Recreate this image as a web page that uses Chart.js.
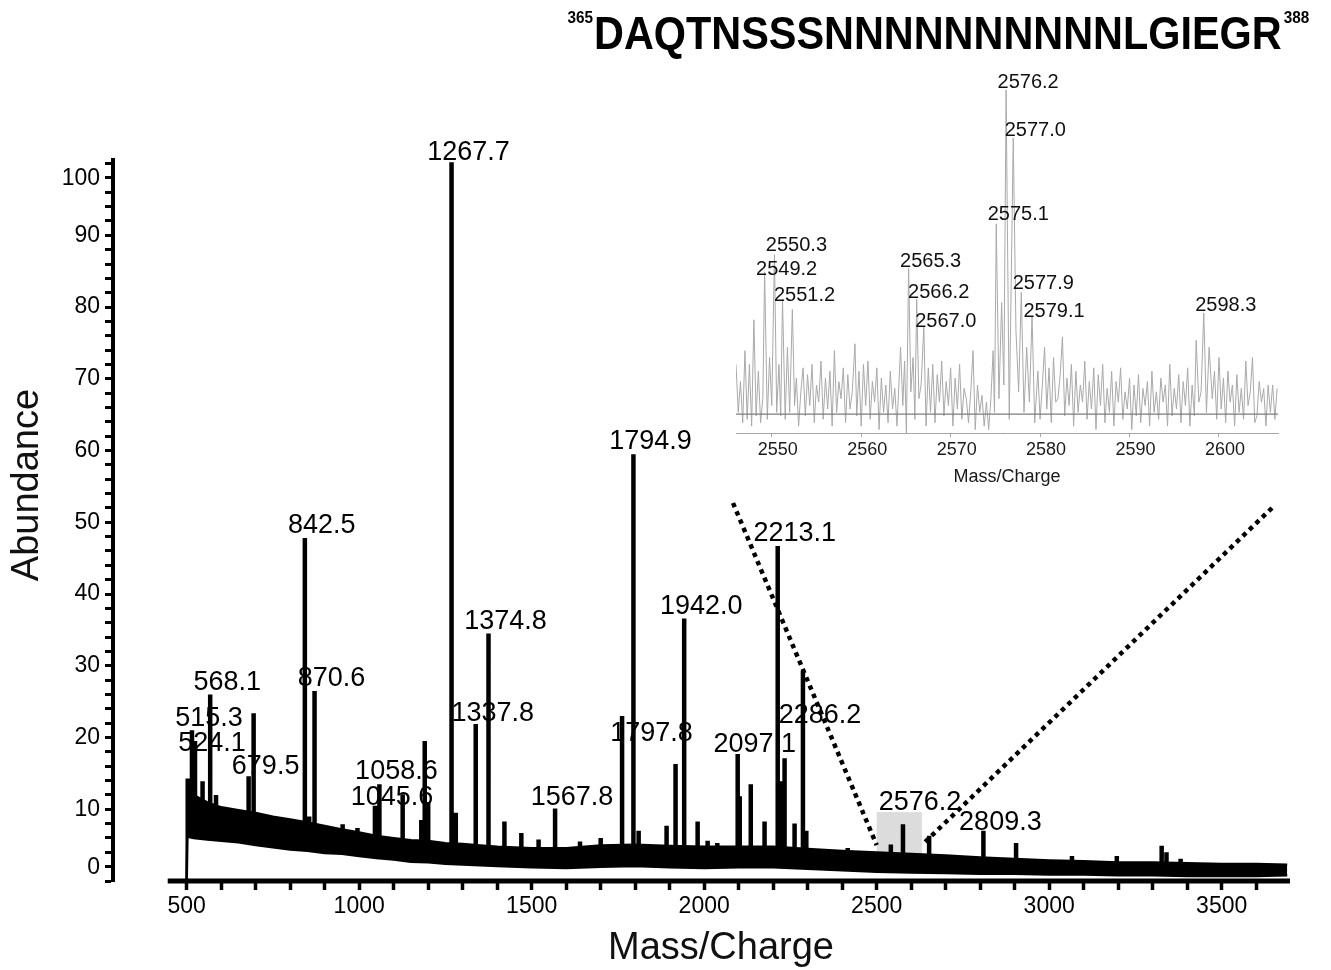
<!DOCTYPE html>
<html>
<head>
<meta charset="utf-8">
<script src="https://cdn.jsdelivr.net/npm/chart.js@4.4.0/dist/chart.umd.min.js"></script>
<style>
  html, body { margin: 0; padding: 0; background: #ffffff; }
  #wrap { position: relative; width: 1331px; height: 970px; overflow: hidden; }
  #main { position: absolute; left: 0; top: 0; }
  #inset { position: absolute; left: 700px; top: 55px; }
</style>
</head>
<body>
<div id="wrap">
  <canvas id="main" width="1331" height="970" style="width:1331px;height:970px"></canvas>
  <canvas id="inset" width="631" height="448" style="width:631px;height:448px"></canvas>
</div>
<script>
// ===================== DATA =====================
const xTickLabels = [500, 1000, 1500, 2000, 2500, 3000, 3500];
const yTickLabels = [0, 10, 20, 30, 40, 50, 60, 70, 80, 90, 100];

// noise band of the spectrum (lower / upper envelope, abundance %)
const bandMz   = [500, 502, 520, 560, 600, 650, 700, 750, 800, 850, 900, 950, 1000, 1050, 1100, 1150, 1200, 1250, 1300, 1350, 1400, 1500, 1600, 1700, 1800, 1900, 2000, 2100, 2200, 2300, 2400, 2500, 2600, 2700, 2800, 2900, 3000, 3100, 3200, 3300, 3400, 3500, 3600, 3690];
const bandLow  = [0, 6.2, 6.0, 5.8, 5.6, 5.4, 5.0, 4.7, 4.4, 4.2, 3.9, 3.8, 3.5, 3.2, 3.0, 2.7, 2.6, 2.4, 2.3, 2.2, 2.1, 1.9, 1.8, 2.0, 2.1, 1.9, 1.8, 1.9, 1.9, 1.7, 1.5, 1.3, 1.2, 1.1, 1.0, 1.0, 0.9, 0.9, 0.8, 0.8, 0.7, 0.7, 0.7, 0.8];
const bandHigh = [0, 11.5, 12.0, 11.0, 10.3, 9.9, 9.5, 9.0, 8.6, 8.2, 7.7, 7.2, 6.8, 6.3, 6.0, 5.7, 5.6, 5.3, 5.2, 5.0, 4.8, 4.6, 4.6, 5.0, 5.1, 4.9, 4.8, 4.8, 4.8, 4.5, 4.2, 4.0, 3.8, 3.6, 3.3, 3.1, 2.9, 2.8, 2.6, 2.6, 2.5, 2.4, 2.4, 2.3];

// peaks rising above the noise band
const peakMz     = [503, 515.3, 524.1, 546, 568.1, 585, 679.5, 694, 842.5, 855, 870.6, 952, 995, 1045.6, 1058.6, 1126, 1180, 1190, 1200, 1267.7, 1280, 1337.8, 1374.8, 1421, 1470, 1520, 1567.8, 1640, 1700, 1762, 1794.9, 1810, 1891, 1917, 1942.0, 1981, 2010, 2038, 2097.1, 2103, 2135, 2175, 2213.1, 2224, 2233, 2262, 2286.2, 2296, 2416, 2541, 2576.2, 2590, 2652, 2809.3, 2904, 3066, 3196, 3326, 3340, 3381];
const peakHeight = [14.3, 21, 19.5, 13.9, 26, 12, 14.6, 23.4, 47.8, 9, 26.5, 7.9, 7.4, 10.5, 13.5, 12.1, 8.5, 19.5, 11, 100.2, 9.5, 21.9, 34.5, 8.3, 6.7, 5.8, 10.1, 5.5, 6, 23, 59.5, 7, 7.7, 16.3, 36.6, 8.3, 5.6, 5.3, 17.7, 11.8, 13.5, 8.3, 46.7, 13.9, 17.1, 8, 29.3, 7, 4.6, 5.1, 7.9, 3.8, 6.3, 7.0, 5.3, 3.5, 3.5, 4.9, 4.0, 3.1];

// annotated m/z values and the abundance level of their text
const labelMz = [1267.7, 842.5, 1794.9, 2213.1, 1942.0, 1374.8, 568.1, 870.6, 515.3, 1337.8, 2286.2, 524.1, 1797.8, 2097.1, 679.5, 1058.6, 1045.6, 1567.8, 2576.2, 2809.3];
const labelY  = [101.6, 49.6, 61.2, 48.5, 38.2, 36.1, 27.6, 28.2, 22.6, 23.4, 23.1, 19.2, 20.6, 19.0, 16.0, 15.2, 11.6, 11.7, 11.0, 8.2];

// zoomed region (grey box)
const zoomBoxMz  = [2500, 2631];
const zoomBoxTop = 9.6;

// inset spectrum
const insetMz = [2546.00,2546.25,2546.50,2546.75,2547.00,2547.25,2547.50,2547.75,2548.00,2548.25,2548.50,2548.75,2549.00,2549.20,2549.50,2549.75,2550.00,2550.30,2550.55,2550.80,2551.00,2551.20,2551.50,2551.75,2552.00,2552.30,2552.55,2552.75,2553.00,2553.25,2553.50,2553.75,2554.00,2554.25,2554.50,2554.75,2555.00,2555.25,2555.50,2555.75,2556.00,2556.25,2556.50,2556.75,2557.00,2557.25,2557.50,2557.75,2558.00,2558.25,2558.50,2558.75,2559.00,2559.30,2559.50,2559.75,2560.00,2560.25,2560.50,2560.75,2561.00,2561.25,2561.50,2561.75,2562.00,2562.25,2562.50,2562.75,2563.00,2563.25,2563.50,2563.75,2564.00,2564.40,2564.65,2564.85,2565.05,2565.30,2565.55,2565.80,2566.00,2566.20,2566.45,2566.70,2567.00,2567.25,2567.50,2567.75,2568.00,2568.25,2568.50,2568.75,2569.00,2569.25,2569.50,2569.75,2570.00,2570.25,2570.50,2570.75,2571.00,2571.25,2571.50,2571.75,2572.00,2572.25,2572.50,2572.75,2573.00,2573.25,2573.50,2573.75,2574.00,2574.25,2574.50,2574.75,2574.90,2575.10,2575.40,2575.70,2575.95,2576.20,2576.55,2577.00,2577.30,2577.60,2577.90,2578.20,2578.50,2578.80,2579.10,2579.40,2579.75,2580.00,2580.25,2580.50,2580.75,2581.00,2581.25,2581.50,2581.75,2582.00,2582.25,2582.50,2582.75,2583.00,2583.25,2583.50,2583.75,2584.00,2584.25,2584.50,2584.75,2585.00,2585.25,2585.50,2585.75,2586.00,2586.25,2586.50,2586.75,2587.00,2587.25,2587.50,2587.75,2588.00,2588.25,2588.50,2588.75,2589.00,2589.25,2589.50,2589.75,2590.00,2590.25,2590.50,2590.75,2591.00,2591.25,2591.50,2591.75,2592.00,2592.25,2592.50,2592.75,2593.00,2593.25,2593.50,2593.75,2594.00,2594.25,2594.50,2594.75,2595.00,2595.25,2595.50,2595.75,2596.00,2596.25,2596.50,2596.75,2597.00,2597.25,2597.45,2597.75,2598.00,2598.30,2598.60,2598.90,2599.25,2599.50,2599.75,2600.00,2600.25,2600.50,2600.75,2601.00,2601.25,2601.50,2601.75,2602.00,2602.25,2602.50,2602.75,2603.00,2603.25,2603.50,2603.75,2604.00,2604.25,2604.50,2604.75,2605.00,2605.25,2605.50,2605.75,2606.00,2606.25,2606.50];
const insetAbund = [20,6,15,3,24,4,20,2,33,5,18,3,10,47,4,22,8,52,6,20,5,39,4,25,6,36,8,16,2,12,19,5,17,8,20,3,14,9,21,4,16,7,18,2,24,6,15,10,19,3,17,7,12,26,5,18,2,20,8,21,4,15,9,19,1,16,6,14,3,18,7,13,2,25,8,21,0,48,12,22,4,39,10,14,31,2,19,6,20,3,17,9,21,5,15,8,19,2,16,7,20,4,13,10,3,12,24,1,14,6,11,2,9,1,10,24,6,61,10,38,14,100,4,86,30,12,41,6,25,9,34,3,18,4,14,25,7,19,3,22,9,10,17,28,5,16,8,20,2,18,6,14,9,21,4,15,7,19,1,17,8,20,3,13,6,18,2,15,9,19,4,12,7,16,1,14,5,17,3,13,8,15,2,18,6,12,4,16,9,14,2,20,5,13,7,17,3,15,8,19,2,14,5,27,9,12,35,6,25,10,18,4,22,7,16,3,18,9,14,2,17,6,13,4,21,8,12,22,3,5,15,9,13,2,14,6,14,4,13];
const insetBaseline = 5.5;
const insetTickLabels = [2550, 2560, 2570, 2580, 2590, 2600];
const insetLabelMz = [2550.3, 2549.2, 2551.2, 2565.3, 2566.2, 2567.0, 2576.2, 2577.0, 2575.1, 2577.9, 2579.1, 2598.3];
const insetLabelY  = [54.8, 47.8, 40.2, 49.9, 41.1, 32.4, 102.3, 88.3, 63.6, 43.7, 35.3, 37.3];

// peptide header
const sequence = 'DAQTNSSSNNNNNNNNNNLGIEGR';
const seqStart = 365;
const seqEnd = 388;

// ===================== RENDER =====================
const FONT = "'Liberation Sans', Arial, Helvetica, sans-serif";
Chart.defaults.font.family = FONT;
Chart.defaults.color = '#000';

// ---------- inset ----------
const insetDecor = {
  id: 'insetDecor',
  afterDatasetsDraw(chart) {
    const { ctx, chartArea, scales: { x, y } } = chart;
    ctx.save();
    ctx.strokeStyle = '#7d7d7d';
    ctx.lineWidth = 1.2;
    const by = y.getPixelForValue(insetBaseline);
    ctx.beginPath();
    ctx.moveTo(chartArea.left, by);
    ctx.lineTo(chartArea.right, by);
    ctx.stroke();
    ctx.fillStyle = '#111';
    ctx.font = '20px ' + FONT;
    ctx.textAlign = 'center';
    ctx.textBaseline = 'middle';
    insetLabelMz.forEach((m, i) => {
      ctx.fillText(m.toFixed(1), x.getPixelForValue(m) + 22, y.getPixelForValue(insetLabelY[i]));
    });
    ctx.restore();
  }
};

const insetChart = new Chart(document.getElementById('inset'), {
  type: 'line',
  data: {
    datasets: [{
      data: insetMz.map((m, i) => ({ x: m, y: insetAbund[i] })),
      borderColor: '#a9a9a9',
      borderWidth: 1,
      pointRadius: 0,
      tension: 0,
      fill: false
    }]
  },
  options: {
    responsive: false,
    animation: false,
    devicePixelRatio: 1,
    layout: { padding: { left: 36, right: 53, top: 35, bottom: 0 } },
    plugins: { legend: { display: false }, tooltip: { enabled: false } },
    scales: {
      x: {
        type: 'linear', min: 2546, max: 2606.6,
        afterFit(s) { s.height = 70; },
        afterBuildTicks(s) { s.ticks = s.ticks.filter(t => insetTickLabels.includes(t.value)); },
        border: { display: true, color: '#a6a6a6', width: 1 },
        grid: { drawOnChartArea: false, tickLength: 4, color: '#a6a6a6' },
        ticks: {
          stepSize: 10, includeBounds: false, autoSkip: false, maxRotation: 0, padding: 2, labelOffset: 6,
          color: '#1a1a1a', font: { size: 18 },
          callback: v => String(v)
        },
        title: { display: true, text: 'Mass/Charge', color: '#1a1a1a', font: { size: 18 }, padding: { top: 0, bottom: 15 } }
      },
      y: { display: false, min: 0, max: 100 }
    }
  },
  plugins: [insetDecor]
});

// ---------- main ----------
const insetCanvas = document.getElementById('inset');

const mainDecor = {
  id: 'mainDecor',
  beforeDatasetsDraw(chart) {
    const { ctx, scales: { x, y } } = chart;
    ctx.save();
    ctx.fillStyle = '#dcdcdc';
    const x0 = x.getPixelForValue(zoomBoxMz[0]);
    const x1 = x.getPixelForValue(zoomBoxMz[1]);
    const y0 = y.getPixelForValue(zoomBoxTop);
    const y1 = y.getPixelForValue(0);
    ctx.fillRect(x0, y0, x1 - x0, y1 - y0);
    ctx.restore();
  },
  afterDatasetsDraw(chart) {
    const { ctx, chartArea, scales: { x, y } } = chart;
    ctx.save();
    // x axis line (starts just left of the first tick)
    ctx.strokeStyle = '#000';
    ctx.lineWidth = 5;
    ctx.beginPath();
    ctx.moveTo(x.getPixelForValue(445), chartArea.bottom);
    ctx.lineTo(chartArea.right, chartArea.bottom);
    ctx.stroke();

    // y tick labels (end labels sit slightly inside the axis, as in the source figure)
    ctx.fillStyle = '#000';
    ctx.font = '23px ' + FONT;
    ctx.textAlign = 'right';
    ctx.textBaseline = 'middle';
    const yl = y.left + y.width - 8 - 5;
    yTickLabels.forEach(v => {
      let py = y.getPixelForValue(v);
      if (v === yTickLabels[0]) py -= 13;
      if (v === yTickLabels[yTickLabels.length - 1]) py += 15;
      ctx.fillText(String(v), yl, py);
    });

    // dotted connector lines from grey box to the inset
    const ia = insetChart.chartArea;
    const ox = insetCanvas.offsetLeft, oy = insetCanvas.offsetTop;
    const insetBottom = oy + insetCanvas.height;
    ctx.setLineDash([4.5, 4.5]);
    ctx.lineWidth = 4.5;
    ctx.beginPath();
    ctx.moveTo(ox + ia.left - 3, insetBottom);
    ctx.lineTo(x.getPixelForValue(zoomBoxMz[0]), y.getPixelForValue(5));
    ctx.moveTo(ox + ia.right - 6, insetBottom + 5);
    ctx.lineTo(x.getPixelForValue(zoomBoxMz[1]), y.getPixelForValue(5));
    ctx.stroke();
    ctx.setLineDash([]);

    // peak labels
    ctx.fillStyle = '#000';
    ctx.font = '27px ' + FONT;
    ctx.textAlign = 'center';
    ctx.textBaseline = 'middle';
    labelMz.forEach((m, i) => {
      ctx.fillText(m.toFixed(1), x.getPixelForValue(m) + 17, y.getPixelForValue(labelY[i]));
    });
    ctx.restore();
  },
  afterDraw(chart) {
    const { ctx } = chart;
    ctx.save();
    ctx.fillStyle = '#111';
    ctx.textAlign = 'center';
    ctx.textBaseline = 'middle';
    ctx.font = '38px ' + FONT;
    ctx.fillText('Mass/Charge', 721, 949);
    ctx.save();
    ctx.translate(28, 485);
    ctx.rotate(-Math.PI / 2);
    ctx.fillText('Abundance', 0, 0);
    ctx.restore();

    // sequence header
    ctx.fillStyle = '#000';
    ctx.textBaseline = 'alphabetic';
    ctx.textAlign = 'left';
    const sx = 0.9;
    const seqLeft = 594;
    ctx.font = 'bold 46px ' + FONT;
    const mainW = ctx.measureText(sequence).width * sx;
    ctx.save(); ctx.translate(seqLeft, 49); ctx.scale(sx, 1); ctx.fillText(sequence, 0, 0); ctx.restore();
    ctx.font = 'bold 17px ' + FONT;
    ctx.textAlign = 'right';
    ctx.save(); ctx.translate(seqLeft - 1, 23); ctx.scale(sx, 1); ctx.fillText(String(seqStart), 0, 0); ctx.restore();
    ctx.textAlign = 'left';
    ctx.save(); ctx.translate(seqLeft + mainW + 2, 23); ctx.scale(sx, 1); ctx.fillText(String(seqEnd), 0, 0); ctx.restore();
    ctx.restore();
  }
};

const stickData = [];
peakMz.forEach((m, i) => {
  stickData.push({ x: m, y: 0 }, { x: m, y: peakHeight[i] }, { x: m, y: null });
});

new Chart(document.getElementById('main'), {
  type: 'line',
  data: {
    datasets: [
      { data: bandMz.map((m, i) => ({ x: m, y: bandHigh[i] })), borderColor: '#000', borderWidth: 2, backgroundColor: '#000', fill: 1, pointRadius: 0, tension: 0 },
      { data: bandMz.map((m, i) => ({ x: m, y: bandLow[i] })), borderColor: '#000', borderWidth: 2.5, backgroundColor: '#fff', fill: 'origin', pointRadius: 0, tension: 0 },
      { data: stickData, borderColor: '#000', borderWidth: 4.5, pointRadius: 0, fill: false, spanGaps: false, borderCapStyle: 'butt' }
    ]
  },
  options: {
    responsive: false,
    animation: false,
    devicePixelRatio: 1,
    layout: { padding: { top: 160, right: 41, left: 0, bottom: 0 } },
    plugins: { legend: { display: false }, tooltip: { enabled: false } },
    scales: {
      x: {
        type: 'linear', min: 286.4, max: 3698,
        afterFit(s) { s.height = 89; },
        afterBuildTicks(s) { s.ticks = s.ticks.filter(t => t.value >= xTickLabels[0]); },
        border: { display: false },
        grid: { drawOnChartArea: false, tickLength: 9, tickWidth: 3.5, tickColor: '#000' },
        ticks: {
          stepSize: 100, includeBounds: false, autoSkip: false, maxRotation: 0, padding: 3,
          color: '#000', font: { size: 23 },
          callback: v => xTickLabels.includes(v) ? String(v) : ''
        }
      },
      y: {
        min: 0, max: 100.5,
        afterFit(s) { s.width = 113; },
        border: { display: true, color: '#000', width: 4 },
        grid: { drawOnChartArea: false, tickLength: 8, tickWidth: 3, tickColor: '#000' },
        ticks: {
          stepSize: 2, includeBounds: false, autoSkip: false, display: false
        }
      }
    }
  },
  plugins: [mainDecor]
});
</script>
</body>
</html>
